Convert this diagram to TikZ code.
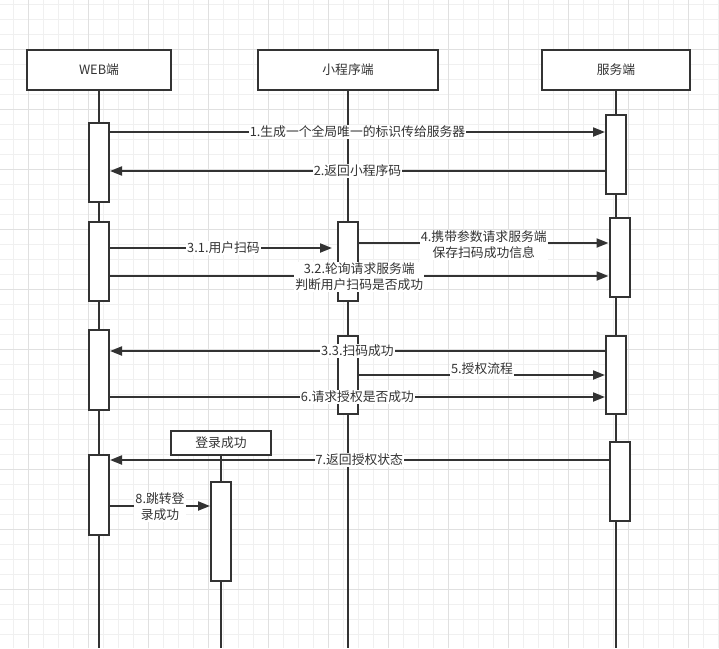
\documentclass[tikz,border=0pt]{standalone}
\usepackage{fontspec}
\newfontfamily\cjk{Noto Sans CJK SC}
\usepackage{tikz}
\usetikzlibrary{arrows.meta}
\definecolor{ink}{HTML}{333333}
\definecolor{gridlo}{HTML}{F0F0F0}
\definecolor{gridhi}{HTML}{E0E0E0}

\begin{document}
\begin{tikzpicture}[x=1pt, y=-1pt, line width=2pt, color=ink,
    every node/.style={font=\cjk\fontsize{12.8pt}{16pt}\selectfont, text=ink},
    party/.style={draw, fill=white, minimum height=40pt, inner sep=0pt},
    act/.style={draw, fill=white, minimum width=20pt, inner sep=0pt, anchor=north},
    msg/.style={-{Triangle[length=12pt, width=9pt]}},
    lbl/.style={fill=white, inner sep=1pt, align=center}]
    \useasboundingbox (0,0) rectangle (719,648);
    \fill[white] (0,0) rectangle (719,648);

    % Background grid
    \foreach \x in {13,28,...,718} \draw[gridlo, line width=1pt] (\x,0) -- (\x,648);
    \foreach \y in {4,19,...,647} \draw[gridlo, line width=1pt] (0,\y) -- (719,\y);
    \foreach \x in {28,88,...,688} \draw[gridhi, line width=1pt] (\x,0) -- (\x,648);
    \foreach \y in {49,109,...,589} \draw[gridhi, line width=1pt] (0,\y) -- (719,\y);

    % Message rows
    \coordinate (bottom) at (0,648);
    \coordinate (R1) at (0,132);    % 1
    \coordinate (R2) at (0,171);    % 2
    \coordinate (R4) at (0,243);    % 4
    \coordinate (R31) at (0,248);   % 3.1
    \coordinate (R32) at (0,276);   % 3.2
    \coordinate (R33) at (0,351);   % 3.3
    \coordinate (R5) at (0,375);    % 5
    \coordinate (R6) at (0,397);    % 6
    \coordinate (R7) at (0,460);    % 7
    \coordinate (R8) at (0,506);    % 8

    % 1. Participants and lifelines
    \node[party, minimum width=144pt] (web) at (99,70) {WEB端};
    \node[party, minimum width=180pt] (mini) at (348,70) {小程序端};
    \node[party, minimum width=148pt] (srv) at (616,70) {服务端};
    \node[party, minimum width=100pt, minimum height=24pt] (login) at (221,443) {登录成功};
    \draw (web.south) -- (web.south |- bottom);
    \draw (mini.south) -- (mini.south |- bottom);
    \draw (srv.south) -- (srv.south |- bottom);
    \draw (login.south) -- (login.south |- bottom);

    % 2. Activation bars
    \node[act, minimum height=79pt] (webA1) at (99,122) {};
    \node[act, minimum height=79pt] (webA2) at (99,221) {};
    \node[act, minimum height=80pt] (webA3) at (99,329) {};
    \node[act, minimum height=80pt] (webA4) at (99,454) {};
    \node[act, minimum height=79pt] (miniA1) at (348,221) {};
    \node[act, minimum height=78pt] (miniA2) at (348,335) {};
    \node[act, minimum height=79pt] (srvA1) at (616,114) {};
    \node[act, minimum height=79pt] (srvA2) at (619.5,217) {};
    \node[act, minimum height=78pt] (srvA3) at (616,335) {};
    \node[act, minimum height=79pt] (srvA4) at (619.5,441) {};
    \node[act, minimum height=99pt] (loginA) at (221,481) {};

    % 3. Messages
    \draw[msg] (webA1.east |- R1) -- (srvA1.west |- R1)
        node[lbl, midway] {1.生成一个全局唯一的标识传给服务器};
    \draw[msg] (srvA1.west |- R2) -- (webA1.east |- R2)
        node[lbl, midway] {2.返回小程序码};
    \draw[msg, shorten >=5pt] (webA2.east |- R31) -- (miniA1.west |- R31)
        node[lbl, midway] {3.1.用户扫码};
    \draw[msg] (webA2.east |- R32) -- (srvA2.west |- R32)
        node[lbl, midway, yshift=-1pt] {3.2.轮询请求服务端\\判断用户扫码是否成功};
    \draw[msg] (miniA1.east |- R4) -- (srvA2.west |- R4)
        node[lbl, midway, yshift=-2pt] {4.携带参数请求服务端\\保存扫码成功信息};
    \draw[msg] (srvA3.west |- R33) -- (webA3.east |- R33)
        node[lbl, midway] {3.3.扫码成功};
    \draw[msg] (miniA2.east |- R5) -- (srvA3.west |- R5)
        node[lbl, midway, yshift=6pt] {5.授权流程};
    \draw[msg] (webA3.east |- R6) -- (srvA3.west |- R6)
        node[lbl, midway] {6.请求授权是否成功};
    \draw[msg] (srvA4.west |- R7) -- (webA4.east |- R7)
        node[lbl, midway] {7.返回授权状态};
    \draw[msg] (webA4.east |- R8) -- (loginA.west |- R8)
        node[lbl, midway, yshift=-1pt] {8.跳转登\\录成功};

\end{tikzpicture}
\end{document}
